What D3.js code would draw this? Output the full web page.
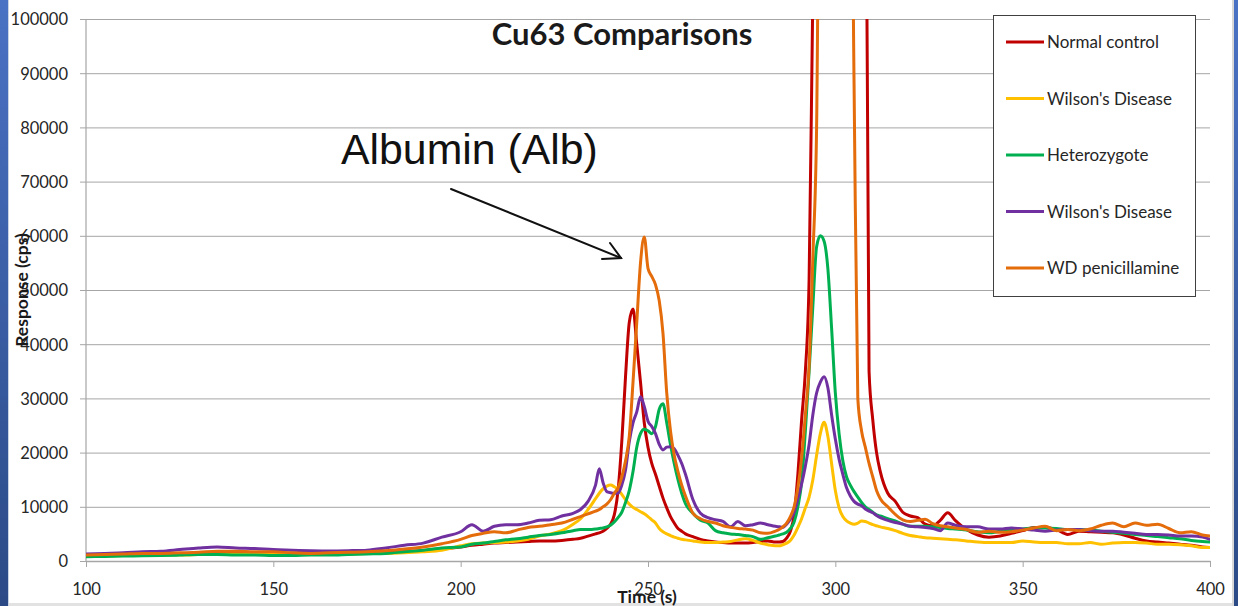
<!DOCTYPE html>
<html>
<head>
<meta charset="utf-8">
<script src="https://cdn.jsdelivr.net/npm/d3@7"></script>
<style>
html,body{margin:0;padding:0;background:#fff;}
svg{display:block;}
</style>
</head>
<body>
<svg id="chart" width="1238" height="606"></svg>
<script>
const times = [100,105,110,115,120,125,130,135,140,145,150,155,160,165,170,175,180,185,190,195,200,
203,206,209,212,215,218,221,224,227,230,232,234,
236,237,238,239,240,241,242,243,244,245,246,247,248,249,250,251,252,253,254,255,256,257,258,259,260,
262,264,266,268,270,272,274,276,278,280,282,284,
285,286,287,288,289,290,291,292,293,294,295,296,297,298,299,300,301,302,303,304,305,306,307,308,309,310,311,312,
314,316,318,320,322,324,326,328,330,332,
335,338,341,344,347,350,353,356,359,362,365,368,371,374,377,380,383,386,389,392,395,398,400];

const normalControl = [1000,1100,1100,1200,1200,1300,1400,1400,1500,1400,1400,1300,1300,1400,1400,1500,1600,1700,1900,2200,2600,
2900,3100,3300,3400,3500,3600,3700,3700,3800,4000,4200,4600,
5000,5200,5500,6000,6800,8500,13000,22000,34000,44000,46500,40000,33000,25500,21000,18000,16000,13800,11600,9800,8200,7000,6000,5500,5000,
4500,4000,3700,3500,3400,3300,3300,3300,3400,3600,3700,3500,
3500,3600,4200,5500,8500,16000,26000,35000,52000,105000,150000,150000,150000,150000,150000,150000,150000,150000,150000,150000,150000,150000,150000,150000,35000,26000,20000,16500,
12500,11000,9000,8300,8000,6800,6500,7500,8900,7500,
5800,4800,4400,4600,5100,5600,6200,6200,5800,4900,5500,5400,5300,5200,4800,4200,3700,3500,3300,3100,2900,2600,2500];

const wilsonDisease1 = [900,950,1000,1000,1100,1100,1200,1300,1300,1200,1200,1200,1200,1300,1300,1400,1400,1500,1700,2000,2800,
3200,3300,3400,3500,3700,4000,4600,5000,5600,6800,7800,9500,
11500,12500,13300,13800,14000,13700,13200,12300,11300,10500,9900,9500,9100,8700,8200,7600,7000,6000,5400,5000,4700,4400,4200,4000,3900,
3700,3500,3400,3400,3500,3600,3900,4100,3800,3300,3000,2800,
2800,3000,3300,3800,4800,6200,7800,9800,11800,15000,19500,23500,25600,23000,18000,13000,9800,8200,7400,7000,6800,7000,7400,7300,7000,6700,6500,6300,
6000,5600,5100,4700,4500,4300,4200,4100,4000,3900,
3700,3500,3400,3400,3400,3700,3500,3400,3400,3200,3200,3400,3100,3300,3400,3400,3300,3100,3100,3000,2800,2500,2500];

const heterozygote = [800,850,900,950,1000,1100,1200,1200,1100,1100,1000,1000,1100,1100,1200,1300,1400,1700,2000,2400,2600,
3100,3300,3600,3900,4100,4400,4700,4900,5200,5600,5800,5800,
5900,6000,6100,6300,6600,7200,8000,9000,10800,13000,16500,21000,23500,24300,24000,23500,24800,28000,29000,25500,21500,18000,15000,12500,10600,
8800,7500,7000,5600,5200,5000,4900,4700,4500,4000,4300,4600,
4800,5000,5300,6000,7200,10000,14500,24000,35000,47000,58000,60000,59000,54000,43000,31000,23500,18500,15500,14000,12800,11800,10800,10000,9500,9000,8500,8300,
7800,7400,6800,6400,6400,6400,6300,6200,6000,5900,
5700,5400,5200,5500,5700,5900,6100,6100,6000,5800,5800,5700,5500,5300,5100,4900,4700,4500,4300,4100,3800,3600,3500];

const wilsonDisease2 = [1300,1400,1500,1700,1800,2100,2400,2600,2400,2300,2100,2000,1900,1850,1900,2000,2400,2900,3300,4400,5400,
6700,5500,6400,6700,6700,7000,7500,7600,8300,8800,9500,11000,
14000,17000,14500,12800,12600,12500,12500,14000,16800,22000,25500,27500,30300,28500,25800,24800,23500,21500,20500,21000,21100,20700,19500,18000,16000,
11300,8800,8000,7600,7300,6300,7300,6500,6700,7000,6700,6400,
6300,6200,6800,7700,9000,11500,14200,17500,21500,27000,31000,33000,34000,32000,27000,22500,18800,16000,13500,12000,11000,10500,10200,9600,9200,8900,8400,8000,
7500,7100,6800,6400,6300,6200,6000,5600,7000,6600,
6300,6300,5900,5900,6100,5900,5700,5500,5700,5800,5800,5600,5500,5500,5300,5100,4900,4900,4800,4600,4600,4400,4000];

const wdPenicillamine = [1100,1200,1300,1400,1400,1500,1600,1800,1800,1700,1700,1500,1400,1500,1600,1700,1900,2200,2600,3200,4000,
4700,5100,5400,5200,5700,6200,6400,6700,7000,7700,8200,8700,
9200,9500,10000,10500,11300,12500,13500,15500,18500,23000,33000,44000,55000,59800,54000,52500,51000,48000,42000,31000,24000,19500,16500,14000,12000,
8800,7800,7300,7000,6500,6200,6000,5900,5700,5200,5100,5500,
5800,6300,7000,8200,10000,13500,19000,27000,36000,56000,80000,150000,150000,150000,150000,150000,150000,150000,150000,150000,88000,30000,24000,21000,18000,15500,13000,11500,
10000,8600,7600,7300,7500,7700,6900,6500,6300,6100,
5800,5300,5500,5300,5400,5700,6100,6400,5600,5800,5600,5900,6600,7000,6300,7000,6600,6800,6000,5200,5400,4800,4600];

const seriesNames = ["Normal control","Wilson's Disease","Heterozygote","Wilson's Disease","WD penicillamine"];
const seriesColors = ["#C00000","#FFC000","#00B050","#7030A0","#E46C0A"];
const seriesValues = [normalControl, wilsonDisease1, heterozygote, wilsonDisease2, wdPenicillamine];
const yTicks = [0,10000,20000,30000,40000,50000,60000,70000,80000,90000,100000];
const xTicks = [100,150,200,250,300,350,400];
const chartTitle = "Cu63 Comparisons";
const yTitle = "Response (cps)";
const xTitle = "Time (s)";
const annotation = "Albumin (Alb)";

const svg = d3.select("#chart");
const W = 1238, H = 606;
const m = {left: 86, right: 1210, top: 19, bottom: 561};

// frame decorations
const defs = svg.append("defs");
const grad = defs.append("linearGradient").attr("id","bluebar").attr("x1",0).attr("y1",0).attr("x2",0).attr("y2",1);
grad.append("stop").attr("offset","0%").attr("stop-color","#4a72c4");
grad.append("stop").attr("offset","100%").attr("stop-color","#2b4a86");
svg.append("rect").attr("x",0).attr("y",0).attr("width",W).attr("height",H).attr("fill","#fff");
svg.append("rect").attr("x",0).attr("y",0).attr("width",8).attr("height",H).attr("fill","url(#bluebar)");
svg.append("rect").attr("x",8).attr("y",0).attr("width",1).attr("height",H).attr("fill","#c9d3e6");
svg.append("rect").attr("x",1232).attr("y",0).attr("width",2).attr("height",H).attr("fill","#d8d8d8");
svg.append("rect").attr("x",1234).attr("y",0).attr("width",4).attr("height",H).attr("fill","url(#bluebar)");
svg.append("rect").attr("x",9).attr("y",603).attr("width",1223).attr("height",3).attr("fill","#e2e2e2");

defs.append("clipPath").attr("id","plotclip").append("rect")
  .attr("x",m.left).attr("y",m.top).attr("width",m.right-m.left).attr("height",m.bottom-m.top);

const x = d3.scaleLinear().domain([100,400]).range([m.left,m.right]);
const y = d3.scaleLinear().domain([0,100000]).range([m.bottom,m.top]);

const font = "Lato, 'Liberation Sans', sans-serif";

// y axis with gridlines
const yAxis = d3.axisLeft(y).tickValues(yTicks).tickSize(-(m.right-m.left)).tickSizeOuter(0).tickPadding(12).tickFormat(d3.format("d"));
const gy = svg.append("g").attr("transform",`translate(${m.left},0)`).call(yAxis);
gy.select(".domain").remove();
gy.selectAll(".tick line").attr("stroke","#a6a6a6").attr("x1",-6).attr("stroke-width",1);
gy.selectAll(".tick text").attr("font-family",font).attr("font-size",16.5).attr("fill","#262626").attr("x",-18).attr("dy","0.36em");
svg.append("line").attr("x1",m.left).attr("x2",m.left).attr("y1",m.top).attr("y2",m.bottom).attr("stroke","#a6a6a6").attr("stroke-width",1.2);

// x axis
const xAxis = d3.axisBottom(x).tickValues(xTicks).tickSize(6).tickSizeOuter(0).tickPadding(16).tickFormat(d3.format("d"));
const gx = svg.append("g").attr("transform",`translate(0,${m.bottom})`).call(xAxis);
gx.select(".domain").attr("stroke","#a6a6a6").attr("stroke-width",1.5);
gx.selectAll(".tick line").attr("stroke","#a6a6a6");
gx.selectAll(".tick text").attr("font-family",font).attr("font-size",16.5).attr("fill","#262626");

// series lines
const line = d3.line().x((d,i)=>x(times[i])).y(d=>y(d)).curve(d3.curveMonotoneX);
const lines = svg.append("g").attr("clip-path","url(#plotclip)");
seriesValues.forEach((vals,k)=>{
  lines.append("path").datum(vals).attr("d",line).attr("fill","none")
    .attr("stroke",seriesColors[k]).attr("stroke-width",3).attr("stroke-linejoin","round").attr("stroke-linecap","round");
});

// title
svg.append("text").attr("x",622).attr("y",45).attr("text-anchor","middle")
  .attr("font-family","Lato, sans-serif").attr("font-weight","bold").attr("font-size",31).attr("fill","#1a1a1a").text(chartTitle);

// axis titles
svg.append("text").attr("transform","translate(28,290) rotate(-90)").attr("text-anchor","middle")
  .attr("font-family",font).attr("font-weight","bold").attr("font-size",17.5).attr("fill","#1a1a1a").text(yTitle);
svg.append("text").attr("x",647).attr("y",603).attr("text-anchor","middle")
  .attr("font-family",font).attr("font-weight","bold").attr("font-size",17.5).attr("fill","#1a1a1a").text(xTitle);

// legend
const lg = svg.append("g");
lg.append("rect").attr("x",993.5).attr("y",15.5).attr("width",202).attr("height",281).attr("fill","#fff").attr("stroke","#404040").attr("stroke-width",1);
seriesNames.forEach((n,k)=>{
  const ly = 42 + k*56.5;
  lg.append("line").attr("x1",1006).attr("x2",1044).attr("y1",ly).attr("y2",ly).attr("stroke",seriesColors[k]).attr("stroke-width",3);
  lg.append("text").attr("x",1047).attr("y",ly).attr("dy","0.36em").attr("font-family",font).attr("font-size",17).attr("fill","#262626").text(n);
});

// annotation
svg.append("text").attr("x",341).attr("y",164).attr("font-family","'Liberation Sans', Arial, sans-serif").attr("font-size",42.8).attr("fill","#111").text(annotation);
const arrow = svg.append("g").attr("stroke","#111").attr("stroke-width",2).attr("fill","none").attr("stroke-linecap","round");
arrow.append("line").attr("x1",451).attr("y1",189).attr("x2",621).attr("y2",258);
arrow.append("polyline").attr("points","610,243 621,258 602,259");
</script>
</body>
</html>
